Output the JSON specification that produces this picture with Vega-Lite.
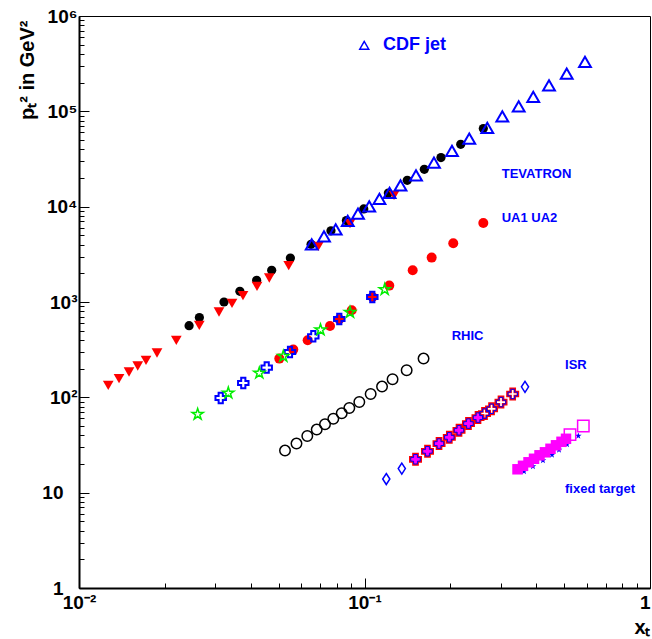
{
  "$schema": "https://vega.github.io/schema/vega-lite/v6.json",
  "width": 571,
  "height": 572,
  "autosize": "none",
  "padding": {"left": 79, "top": 16, "right": 2, "bottom": 51},
  "background": "white",
  "config": {"view": {"stroke": "black", "strokeWidth": 1}},
  "data": {"values": [
    {"s":"tev_dot","x":0.0243,"y":565},{"s":"tev_dot","x":0.0264,"y":686},{"s":"tev_dot","x":0.0322,"y":1000},{"s":"tev_dot","x":0.0366,"y":1295},{"s":"tev_dot","x":0.0419,"y":1689},{"s":"tev_dot","x":0.0473,"y":2150},{"s":"tev_dot","x":0.055,"y":2895},{"s":"tev_dot","x":0.065,"y":4031},{"s":"tev_dot","x":0.0763,"y":5585},{"s":"tev_dot","x":0.0864,"y":7145},{"s":"tev_dot","x":0.0994,"y":9456},{"s":"tev_dot","x":0.1212,"y":13915},{"s":"tev_dot","x":0.1412,"y":18910},{"s":"tev_dot","x":0.162,"y":24670},{"s":"tev_dot","x":0.1853,"y":32730},{"s":"tev_dot","x":0.2173,"y":45110},{"s":"tev_dot","x":0.2607,"y":65940},
    {"s":"tev_tri","x":0.01266,"y":133.8},{"s":"tev_tri","x":0.01381,"y":157.2},{"s":"tev_tri","x":0.01497,"y":184.4},{"s":"tev_tri","x":0.01606,"y":213.2},{"s":"tev_tri","x":0.01717,"y":244.7},{"s":"tev_tri","x":0.01876,"y":291.8},{"s":"tev_tri","x":0.02192,"y":396.7},{"s":"tev_tri","x":0.02638,"y":569.6},{"s":"tev_tri","x":0.03093,"y":785.6},{"s":"tev_tri","x":0.03435,"y":969.4},{"s":"tev_tri","x":0.03753,"y":1167},{"s":"tev_tri","x":0.04203,"y":1461},{"s":"tev_tri","x":0.0464,"y":1786},{"s":"tev_tri","x":0.05426,"y":2409},{"s":"tev_tri","x":0.0689,"y":3841},{"s":"tev_tri","x":0.08897,"y":6645},{"s":"tev_tri","x":0.1269,"y":13165},
    {"s":"cdf","x":0.06533,"y":4031},{"s":"cdf","x":0.07213,"y":4890},{"s":"cdf","x":0.07927,"y":5790},{"s":"cdf","x":0.08735,"y":7076},{"s":"cdf","x":0.09489,"y":8459},{"s":"cdf","x":0.1039,"y":10090},{"s":"cdf","x":0.1128,"y":12090},{"s":"cdf","x":0.1224,"y":13915},{"s":"cdf","x":0.1337,"y":16760},{"s":"cdf","x":0.1515,"y":21340},{"s":"cdf","x":0.1751,"y":29000},{"s":"cdf","x":0.2025,"y":38380},{"s":"cdf","x":0.2328,"y":51800},{"s":"cdf","x":0.2692,"y":66890},{"s":"cdf","x":0.3039,"y":88750},{"s":"cdf","x":0.3468,"y":113000},{"s":"cdf","x":0.39,"y":141500},{"s":"cdf","x":0.4429,"y":187700},{"s":"cdf","x":0.5108,"y":248900},{"s":"cdf","x":0.5919,"y":329400},
    {"s":"cdf_key","x":0.0998,"y":492900},
    {"s":"ua_dot","x":0.0503,"y":254.9},{"s":"ua_dot","x":0.0563,"y":316.8},{"s":"ua_dot","x":0.06324,"y":396.7},{"s":"ua_dot","x":0.0757,"y":560},{"s":"ua_dot","x":0.0816,"y":658.6},{"s":"ua_dot","x":0.0902,"y":818.9},{"s":"ua_dot","x":0.1067,"y":1129},{"s":"ua_dot","x":0.1221,"y":1486},{"s":"ua_dot","x":0.1475,"y":2150},{"s":"ua_dot","x":0.1719,"y":2923},{"s":"ua_dot","x":0.2046,"y":4129},{"s":"ua_dot","x":0.2607,"y":6743},
    {"s":"ua_cross","x":0.03136,"y":98.4},{"s":"ua_cross","x":0.03762,"y":141.4},{"s":"ua_cross","x":0.04544,"y":205.1},{"s":"ua_cross","x":0.05483,"y":299},{"s":"ua_cross","x":0.06617,"y":436.9},{"s":"ua_cross","x":0.0816,"y":663.5},{"s":"ua_cross","x":0.1065,"y":1129},
    {"s":"ua_star","x":0.02604,"y":66.4},{"s":"ua_star","x":0.03334,"y":111.1},{"s":"ua_star","x":0.04281,"y":180},{"s":"ua_star","x":0.05195,"y":269.5},{"s":"ua_star","x":0.07014,"y":511},{"s":"ua_star","x":0.08897,"y":780},{"s":"ua_star","x":0.1177,"y":1353},
    {"s":"rhic","x":0.05267,"y":27.63},{"s":"rhic","x":0.05778,"y":32.72},{"s":"rhic","x":0.06304,"y":39.3},{"s":"rhic","x":0.06802,"y":45.87},{"s":"rhic","x":0.07272,"y":52.15},{"s":"rhic","x":0.07777,"y":59.56},{"s":"rhic","x":0.08322,"y":68.01},{"s":"rhic","x":0.08848,"y":77.31},{"s":"rhic","x":0.0959,"y":89.35},{"s":"rhic","x":0.1051,"y":108.4},{"s":"rhic","x":0.1152,"y":129.6},{"s":"rhic","x":0.1254,"y":154.6},{"s":"rhic","x":0.1405,"y":192.2},{"s":"rhic","x":0.161,"y":254.9},
    {"s":"isr_dia","x":0.1192,"y":13.91},{"s":"isr_dia","x":0.1351,"y":17.88},{"s":"isr_dia","x":0.3649,"y":129},
    {"s":"isr_red","x":0.1509,"y":22.39},{"s":"isr_red","x":0.1662,"y":27.16},{"s":"isr_red","x":0.1824,"y":32.72},{"s":"isr_red","x":0.1982,"y":38.09},{"s":"isr_red","x":0.2143,"y":45.11},{"s":"isr_red","x":0.2313,"y":53.04},{"s":"isr_red","x":0.2498,"y":61.31},{"s":"isr_red","x":0.2632,"y":67.52},{"s":"isr_red","x":0.2786,"y":75.83},{"s":"isr_red","x":0.3007,"y":89.15},{"s":"isr_red","x":0.3304,"y":108.4},
    {"s":"isr_blue","x":0.1509,"y":22.39},{"s":"isr_blue","x":0.1662,"y":27.16},{"s":"isr_blue","x":0.1824,"y":32.72},{"s":"isr_blue","x":0.1982,"y":38.09},{"s":"isr_blue","x":0.2143,"y":45.11},{"s":"isr_blue","x":0.2313,"y":53.04},{"s":"isr_blue","x":0.2498,"y":61.31},{"s":"isr_blue","x":0.2632,"y":67.52},{"s":"isr_blue","x":0.2786,"y":75.83},{"s":"isr_blue","x":0.3007,"y":89.15},{"s":"isr_blue","x":0.3304,"y":108.4},
    {"s":"isr_mag","x":0.1509,"y":22.39},{"s":"isr_mag","x":0.1662,"y":27.16},{"s":"isr_mag","x":0.1824,"y":32.72},{"s":"isr_mag","x":0.1982,"y":38.09},{"s":"isr_mag","x":0.2143,"y":45.11},{"s":"isr_mag","x":0.2313,"y":53.04},{"s":"isr_mag","x":0.2498,"y":61.31},
    {"s":"ft_star","x":0.362,"y":16.76},{"s":"ft_star","x":0.3891,"y":18.91},{"s":"ft_star","x":0.4218,"y":21.86},{"s":"ft_star","x":0.4536,"y":24.96},{"s":"ft_star","x":0.4801,"y":28.17},{"s":"ft_star","x":0.5121,"y":32.17},{"s":"ft_star","x":0.5609,"y":39.49},
    {"s":"ft_sq","x":0.3435,"y":17.59},{"s":"ft_sq","x":0.3591,"y":19.13},{"s":"ft_sq","x":0.3754,"y":20.83},{"s":"ft_sq","x":0.3924,"y":22.67},{"s":"ft_sq","x":0.4102,"y":24.66},{"s":"ft_sq","x":0.4287,"y":26.51},{"s":"ft_sq","x":0.4482,"y":28.86},{"s":"ft_sq","x":0.4685,"y":31.4},{"s":"ft_sq","x":0.4898,"y":34.17},{"s":"ft_sq","x":0.5079,"y":36.74},
    {"s":"ft_open","x":0.5245,"y":40.66},{"s":"ft_open","x":0.584,"y":50.05},
    {"s":"lab_big","x":0.1161,"y":492900,"t":"CDF jet"},
    {"s":"lab","x":0.3024,"y":21860,"t":"TEVATRON"},
    {"s":"lab","x":0.3024,"y":7645,"t":"UA1 UA2"},
    {"s":"lab","x":0.202,"y":436.9,"t":"RHIC"},
    {"s":"lab","x":0.5039,"y":219.4,"t":"ISR"},
    {"s":"lab","x":0.5039,"y":10.85,"t":"fixed target"}
  ]},
  "encoding": {
    "x": {"field": "x", "type": "quantitative",
      "scale": {"type": "log", "domain": [0.01, 1], "nice": false},
      "axis": {
        "values": [0.01,0.02,0.03,0.04,0.05,0.06,0.07,0.08,0.09,0.1,0.2,0.3,0.4,0.5,0.6,0.7,0.8,0.9,1],
        "labelExpr": "datum.value == 0.01 ? '10\u207B\u00B2' : datum.value == 0.1 ? '10\u207B\u00B9' : datum.value == 1 ? '1' : ''",
        "tickSize": {"condition": {"test": "indexof([0.01,0.1,1], datum.value) >= 0", "value": -10}, "value": -5},
        "labelAlign": {"condition": {"test": "datum.value == 1", "value": "right"}, "value": "center"},
        "labelPadding": 15,
        "labelFont": "Liberation Sans", "labelFontWeight": "bold", "labelFontSize": 19, "labelColor": "black",
        "labelOverlap": false, "labelFlush": false, "labelBound": false,
        "grid": false, "domainColor": "black", "domainWidth": 2, "tickColor": "black", "tickWidth": 1,
        "title": "x\u209C", "titleX": 571, "titleY": 45, "titleAlign": "right", "titleBaseline": "alphabetic",
        "titleFont": "Liberation Sans", "titleFontWeight": "bold", "titleFontSize": 20, "titleColor": "black"
      }
    },
    "y": {"field": "y", "type": "quantitative",
      "scale": {"type": "log", "domain": [1, 1000000], "nice": false},
      "axis": {
        "values": [1,2,3,4,5,6,7,8,9,10,20,30,40,50,60,70,80,90,100,200,300,400,500,600,700,800,900,1000,2000,3000,4000,5000,6000,7000,8000,9000,10000,20000,30000,40000,50000,60000,70000,80000,90000,100000,200000,300000,400000,500000,600000,700000,800000,900000,1000000],
        "labelExpr": "datum.value == 1 ? '1' : datum.value == 10 ? '10' : datum.value == 100 ? '10\u00B2' : datum.value == 1000 ? '10\u00B3' : datum.value == 10000 ? '10\u2074' : datum.value == 100000 ? '10\u2075' : datum.value == 1000000 ? '10\u2076' : ''",
        "tickSize": {"condition": {"test": "indexof([1,10,100,1000,10000,100000,1000000], datum.value) >= 0", "value": -10}, "value": -5},
        "labelPadding": {"condition": {"test": "datum.value == 1 || datum.value == 10", "value": 26}, "value": 12},
        "labelFont": "Liberation Sans", "labelFontWeight": "bold", "labelFontSize": 19, "labelColor": "black",
        "labelOverlap": false, "labelFlush": false, "labelBound": false, "labelBaseline": "middle",
        "grid": false, "domainColor": "black", "domainWidth": 2, "tickColor": "black", "tickWidth": 1,
        "title": "p\u209C\u00B2 in GeV\u00B2", "titleX": -46, "titleY": 4, "titleAngle": -90, "titleAlign": "right", "titleBaseline": "alphabetic",
        "titleFont": "Liberation Sans", "titleFontWeight": "bold", "titleFontSize": 20, "titleColor": "black"
      }
    }
  },
  "layer": [
    {"transform": [{"filter": "datum.s == 'tev_dot'"}], "mark": {"type": "point", "shape": "circle", "filled": true, "color": "black", "size": 85, "opacity": 1}},
    {"transform": [{"filter": "datum.s == 'tev_tri'"}], "mark": {"type": "point", "shape": "triangle-down", "filled": true, "color": "#ff0000", "size": 115, "opacity": 1}},
    {"transform": [{"filter": "datum.s == 'cdf'"}], "mark": {"type": "point", "shape": "triangle-up", "filled": false, "color": "#0000ff", "strokeWidth": 2, "size": 140, "opacity": 1}},
    {"transform": [{"filter": "datum.s == 'cdf_key'"}], "mark": {"type": "point", "shape": "triangle-up", "filled": false, "color": "#0000ff", "strokeWidth": 1.5, "size": 80, "opacity": 1}},
    {"transform": [{"filter": "datum.s == 'ua_dot'"}], "mark": {"type": "point", "shape": "circle", "filled": true, "color": "#ff0000", "size": 100, "opacity": 1}},
    {"transform": [{"filter": "datum.s == 'ua_cross'"}], "mark": {"type": "point", "shape": "cross", "filled": false, "color": "#0000ff", "strokeWidth": 2, "size": 110, "opacity": 1}},
    {"transform": [{"filter": "datum.s == 'ua_star'"}], "mark": {"type": "point", "shape": "M0,-1L0.223,-0.307L0.951,-0.309L0.361,0.117L0.588,0.809L0,0.38L-0.588,0.809L-0.361,0.117L-0.951,-0.309L-0.223,-0.307Z", "filled": false, "color": "#00ee00", "strokeWidth": 1.5, "size": 140, "opacity": 1}},
    {"transform": [{"filter": "datum.s == 'rhic'"}], "mark": {"type": "point", "shape": "circle", "filled": false, "color": "black", "strokeWidth": 1.5, "size": 110, "opacity": 1}},
    {"transform": [{"filter": "datum.s == 'isr_dia'"}], "mark": {"type": "point", "shape": "M0,-1L0.65,0L0,1L-0.65,0Z", "filled": false, "color": "#0000ff", "strokeWidth": 1.5, "size": 121, "opacity": 1}},
    {"transform": [{"filter": "datum.s == 'isr_red'"}], "mark": {"type": "point", "shape": "cross", "filled": false, "color": "#ff0000", "strokeWidth": 2.5, "size": 110, "opacity": 1}},
    {"transform": [{"filter": "datum.s == 'isr_mag'"}], "mark": {"type": "point", "shape": "cross", "filled": true, "color": "#ff00ff", "size": 70, "opacity": 1}},
    {"transform": [{"filter": "datum.s == 'isr_blue'"}], "mark": {"type": "point", "shape": "cross", "filled": false, "color": "#0000ff", "strokeWidth": 1, "size": 90, "opacity": 1}},
    {"transform": [{"filter": "datum.s == 'ft_star'"}], "mark": {"type": "point", "shape": "M0,-1L0.223,-0.307L0.951,-0.309L0.361,0.117L0.588,0.809L0,0.38L-0.588,0.809L-0.361,0.117L-0.951,-0.309L-0.223,-0.307Z", "filled": true, "color": "#0000ff", "size": 50, "opacity": 1}},
    {"transform": [{"filter": "datum.s == 'ft_sq'"}], "mark": {"type": "point", "shape": "square", "filled": true, "color": "#ff00ff", "size": 110, "opacity": 1}},
    {"transform": [{"filter": "datum.s == 'ft_open'"}], "mark": {"type": "point", "shape": "square", "filled": false, "color": "#ff00ff", "strokeWidth": 1.5, "size": 130, "opacity": 1}},
    {"transform": [{"filter": "datum.s == 'lab_big'"}], "mark": {"type": "text", "align": "left", "baseline": "middle", "font": "Liberation Sans", "fontWeight": "bold", "fontSize": 18, "color": "#0000ff"}, "encoding": {"text": {"field": "t"}}},
    {"transform": [{"filter": "datum.s == 'lab'"}], "mark": {"type": "text", "align": "left", "baseline": "middle", "font": "Liberation Sans", "fontWeight": "bold", "fontSize": 13, "color": "#0000ff"}, "encoding": {"text": {"field": "t"}}}
  ]
}
